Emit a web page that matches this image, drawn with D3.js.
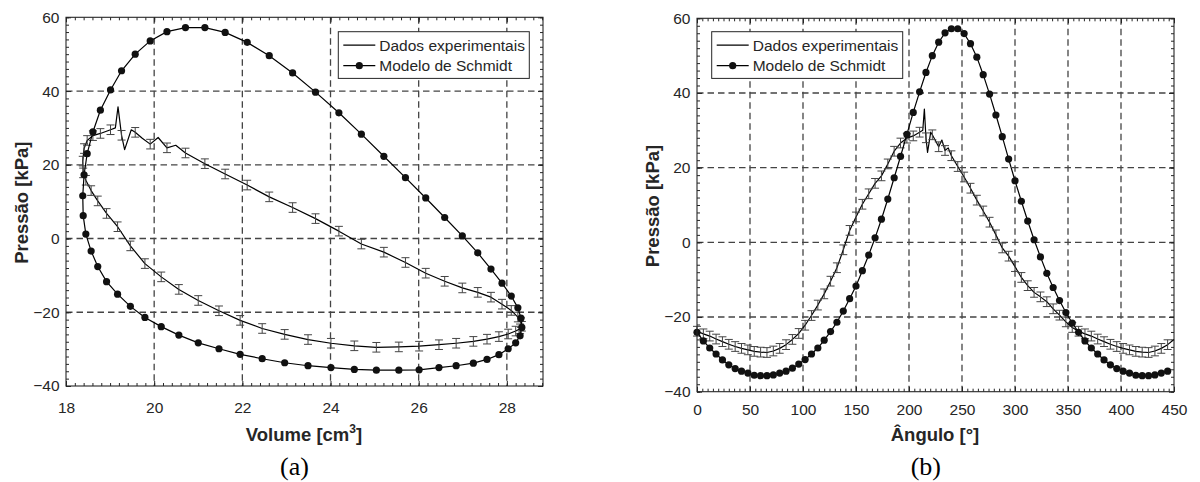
<!DOCTYPE html>
<html>
<head>
<meta charset="utf-8">
<script src="https://cdn.jsdelivr.net/npm/d3@7"></script>
<style>
  body { margin: 0; background: #fff; }
  text { font-family: "Liberation Sans", Arial, Helvetica, sans-serif; fill: #262626; }
</style>
</head>
<body>
<svg id="fig" width="1200" height="482"></svg>
<script>
// one engine cycle, sampled every 6 degrees of crank angle
const angles = [
  0, 6, 12, 18, 24, 30, 36, 42, 48, 54,
  60, 66, 72, 78, 84, 90, 96, 102, 108, 114,
  120, 126, 132, 138, 144, 150, 156, 162, 168, 174,
  180, 186, 192, 198, 204, 210, 216, 222, 228, 234,
  240, 246, 252, 258, 264, 270, 276, 282, 288, 294,
  300, 306, 312, 318, 324, 330, 336, 342, 348, 354
];
// volume [cm3]
const volume = [
  28.34, 28.30, 28.20, 28.03, 27.82, 27.55, 27.24, 26.85, 26.46, 26.01,
  25.55, 25.04, 24.54, 24.01, 23.49, 22.96, 22.45, 21.95, 21.47, 21.00,
  20.56, 20.16, 19.79, 19.46, 19.17, 18.92, 18.72, 18.57, 18.45, 18.39,
  18.38, 18.41, 18.48, 18.61, 18.78, 19.01, 19.26, 19.57, 19.91, 20.29,
  20.71, 21.15, 21.61, 22.11, 22.61, 23.14, 23.66, 24.19, 24.70, 25.21,
  25.70, 26.16, 26.59, 26.99, 27.34, 27.64, 27.89, 28.10, 28.25, 28.32
];
// Modelo de Schmidt [kPa]
const schmidtPressure = [
  -24.1, -26.4, -28.3, -29.9, -31.5, -32.8, -33.8, -34.5, -35.0, -35.6,
  -35.7, -35.7, -35.5, -35.0, -34.5, -33.7, -32.6, -31.4, -29.9, -28.3,
  -26.2, -23.9, -21.4, -18.4, -15.1, -11.7, -7.6, -3.4, 1.2, 6.2,
  11.6, 17.3, 23.0, 28.9, 34.8, 40.3, 45.5, 50.0, 53.6, 56.1,
  57.2, 57.2, 55.9, 53.2, 49.6, 44.9, 39.7, 34.1, 28.3, 22.3,
  16.5, 11.0, 5.7, 0.7, -3.9, -8.3, -12.1, -15.6, -18.8, -21.6
];
// Dados experimentais [kPa] (mean, where the error bars sit)
const expPressure = [
  -23.8, -24.5, -25.1, -25.9, -26.6, -27.3, -27.9, -28.4, -28.8, -29.2,
  -29.4, -29.5, -29.1, -28.4, -27.4, -26.0, -24.4, -22.2, -19.6, -16.8,
  -13.8, -10.4, -6.8, -2.0, 3.2, 6.8, 10.2, 13.0, 15.8, 17.8,
  21.0, 24.4, 26.6, 27.9, 28.5, 29.5, 28.0, 28.8, 25.6, 24.6,
  23.2, 20.3, 17.5, 14.5, 11.3, 8.4, 5.4, 2.0, -1.5, -3.7,
  -6.5, -9.4, -11.6, -13.4, -14.6, -15.9, -17.8, -19.5, -21.3, -22.8
];
const expError = 1.3; // half height of the error bars [kPa]
// extra samples of the measured line around the pressure spike
const spikeAngle = [213, 214.5, 217.5, 220.5, 225, 231, 237];
const spikeVolume = [19.12, 19.18, 19.33, 19.48, 19.73, 20.09, 20.49];
const spikePressure = [30.0, 35.7, 24.1, 29.5, 27.2, 27.4, 25.3];

// the angle plot runs on into the next cycle up to 450 degrees
const angleMax = 450;

const volTicks = [18, 20, 22, 24, 26, 28];
const angTicks = [0, 50, 100, 150, 200, 250, 300, 350, 400, 450];
const presTicks = [-40, -20, 0, 20, 40, 60];

const legendNames = ["Dados experimentais", "Modelo de Schmidt"];

// ---------- build point lists ----------
let cycle = angles.map((a, i) => ({a: a, v: volume[i], ps: schmidtPressure[i], pe: expPressure[i]}));
let expLine = cycle.map(d => ({a: d.a, v: d.v, p: d.pe}))
  .concat(spikeAngle.map((a, i) => ({a: a, v: spikeVolume[i], p: spikePressure[i]})))
  .sort((m, n) => m.a - n.a);

// second turn (360..450) repeats the start of the cycle
let cycleB = cycle.concat(cycle.filter(d => d.a + 360 < angleMax).map(d => Object.assign({}, d, {a: d.a + 360})));
let expLineB = expLine.concat(expLine.filter(d => d.a + 360 <= angleMax).map(d => Object.assign({}, d, {a: d.a + 360})));

const svg = d3.select("#fig");

function panel(o) {
  const g = svg.append("g");
  const x = d3.scaleLinear().domain(o.xDomain).range([o.left, o.right]);
  const y = d3.scaleLinear().domain([-40, 60]).range([o.bottom, o.top]);

  // grid
  const grid = g.append("g").attr("stroke", "#444").attr("stroke-width", 1.3)
    .attr("stroke-dasharray", "6.5,4").attr("fill", "none");
  o.xTicks.filter(t => x(t) > o.left + 1 && x(t) < o.right - 1).forEach(t => {
    grid.append("line").attr("x1", x(t)).attr("x2", x(t)).attr("y1", o.top).attr("y2", o.bottom);
  });
  presTicks.filter(t => y(t) < o.bottom - 1 && y(t) > o.top + 1).forEach(t => {
    grid.append("line").attr("x1", o.left).attr("x2", o.right).attr("y1", y(t)).attr("y2", y(t));
  });

  // ticks, inward, all four sides
  const xMinor = d3.range(o.xDomain[0], o.xDomain[1] + 1e-9, o.xMinorStep);
  const yMinor = d3.range(-40, 60.001, 2);
  const sides = () => [
    [d3.axisBottom(x), o.bottom, "x"], [d3.axisTop(x), o.top, "x"],
    [d3.axisLeft(y), o.left, "y"], [d3.axisRight(y), o.right, "y"]
  ];
  sides().forEach(([ax, pos, dir]) => {
    const tr = dir == "x" ? `translate(0,${pos})` : `translate(${pos},0)`;
    const minor = g.append("g").attr("transform", tr)
      .call(ax.tickValues(dir == "x" ? xMinor : yMinor).tickSize(-3).tickFormat(""));
    minor.select(".domain").remove();
    minor.selectAll("line").attr("stroke", "#262626");
  });
  sides().forEach(([ax, pos, dir]) => {
    const tr = dir == "x" ? `translate(0,${pos})` : `translate(${pos},0)`;
    const major = g.append("g").attr("transform", tr)
      .call(ax.tickValues(dir == "x" ? o.xTicks : presTicks).tickSize(-5).tickFormat(""));
    major.select(".domain").remove();
    major.selectAll("line").attr("stroke", "#262626");
  });

  // tick labels
  const xl = g.append("g").attr("transform", `translate(0,${o.bottom})`)
    .call(d3.axisBottom(x).tickValues(o.xTicks).tickSize(0).tickPadding(o.xPad));
  xl.select(".domain").remove();
  xl.selectAll("text").attr("font-size", 15.5).attr("font-family", null).attr("fill", "#262626");
  const yl = g.append("g").attr("transform", `translate(${o.left},0)`)
    .call(d3.axisLeft(y).tickValues(presTicks).tickSize(0).tickPadding(6.5));
  yl.select(".domain").remove();
  yl.selectAll("text").attr("font-size", 15.5).attr("font-family", null).attr("fill", "#262626");

  // measured line with error bars
  const line = d3.line().x(d => x(o.xOf(d))).y(d => y(d.p));
  let exp = o.expPts;
  if (o.closed) exp = exp.concat([exp[0]]);
  g.append("path").attr("d", line(exp)).attr("fill", "none")
    .attr("stroke", "#000").attr("stroke-width", 1.2).attr("stroke-linejoin", "round");

  const eb = g.append("g").attr("stroke", "#444").attr("stroke-width", 1);
  o.cyclePts.forEach(d => {
    const cx = x(o.xOf(d)), y0 = y(d.pe - expError), y1 = y(d.pe + expError);
    eb.append("line").attr("x1", cx).attr("x2", cx).attr("y1", y0).attr("y2", y1);
    eb.append("line").attr("x1", cx - 4).attr("x2", cx + 4).attr("y1", y0).attr("y2", y0);
    eb.append("line").attr("x1", cx - 4).attr("x2", cx + 4).attr("y1", y1).attr("y2", y1);
  });

  // Schmidt model
  const sLine = d3.line().x(d => x(o.xOf(d))).y(d => y(d.ps));
  let sch = o.cyclePts;
  if (o.closed) sch = sch.concat([sch[0]]);
  g.append("path").attr("d", sLine(sch)).attr("fill", "none")
    .attr("stroke", "#000").attr("stroke-width", 1.2);
  g.append("g").selectAll("circle").data(o.cyclePts).enter().append("circle")
    .attr("cx", d => x(o.xOf(d))).attr("cy", d => y(d.ps)).attr("r", 3.6)
    .attr("fill", "#111").attr("stroke", "none");

  // frame
  g.append("rect").attr("x", o.left).attr("y", o.top)
    .attr("width", o.right - o.left).attr("height", o.bottom - o.top)
    .attr("fill", "none").attr("stroke", "#262626").attr("stroke-width", 1.1);

  // legend
  const lg = g.append("g").attr("transform", `translate(${o.legendX},31.7)`);
  lg.append("rect").attr("width", 191).attr("height", 46.7)
    .attr("fill", "#fff").attr("stroke", "#262626").attr("stroke-width", 1);
  legendNames.forEach((name, i) => {
    const ly = 13.5 + i * 20.5;
    lg.append("line").attr("x1", 5).attr("x2", 37).attr("y1", ly).attr("y2", ly)
      .attr("stroke", "#000").attr("stroke-width", 1.2);
    if (i == 1) lg.append("circle").attr("cx", 21).attr("cy", ly).attr("r", 3.6).attr("fill", "#111");
    lg.append("text").attr("x", 41).attr("y", ly).attr("dy", "0.36em")
      .attr("font-size", 15.5).text(name);
  });

  // axis titles
  const xt = g.append("text").attr("x", o.xTitleX).attr("y", o.xTitleY)
    .attr("text-anchor", "middle").attr("font-size", 18.5).attr("font-weight", "bold");
  o.xTitle(xt);
  g.append("text").attr("transform", `translate(${o.yTitleX},${(o.top + o.bottom) / 2 + 1}) rotate(-90)`)
    .attr("text-anchor", "middle").attr("font-size", 18.5).attr("font-weight", "bold")
    .text("Pressão [kPa]");
  g.append("text").attr("x", o.tagX).attr("y", 475).attr("text-anchor", "middle")
    .attr("font-size", 26).style("font-family", '"Liberation Serif", "Times New Roman", serif')
    .style("fill", "#000").text(o.tag);
}

panel({
  left: 66, right: 543, top: 17.3, bottom: 386,
  xDomain: [18, 28.82], xTicks: volTicks, xMinorStep: 0.2, xPad: 15.5,
  xOf: d => d.v, expPts: expLine, cyclePts: cycle, closed: true,
  legendX: 338.3,
  xTitleX: 304, xTitleY: 441, yTitleX: 27.5, tagX: 294.5, tag: "(a)",
  xTitle: t => {
    t.append("tspan").text("Volume [cm");
    t.append("tspan").attr("dy", -8).attr("font-size", 12).text("3");
    t.append("tspan").attr("dy", 8).text("]");
  }
});

panel({
  left: 697, right: 1174, top: 18.3, bottom: 391.7,
  xDomain: [0, angleMax], xTicks: angTicks, xMinorStep: 5, xPad: 12.3,
  xOf: d => d.a, expPts: expLineB, cyclePts: cycleB, closed: false,
  legendX: 711.7,
  xTitleX: 935, xTitleY: 440.7, yTitleX: 659, tagX: 925.8, tag: "(b)",
  xTitle: t => t.text("Ângulo [°]")
});
</script>
</body>
</html>
